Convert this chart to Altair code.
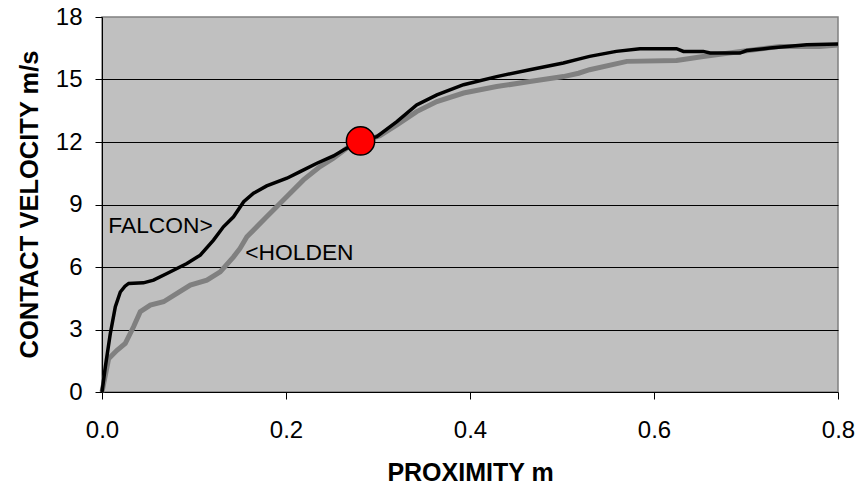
import altair as alt
import pandas as pd

# ---- data ----
falcon_x = [0, 0.0036, 0.009, 0.0145, 0.0199, 0.025, 0.029, 0.045, 0.056, 0.0706, 0.0923, 0.1068, 0.1212,
            0.132, 0.143, 0.154, 0.1647, 0.179, 0.201, 0.2154, 0.2336, 0.2516, 0.2625, 0.281, 0.2987,
            0.3205, 0.342, 0.364, 0.393, 0.429, 0.465, 0.5015, 0.518, 0.530, 0.559, 0.5848, 0.6245,
            0.632, 0.6535, 0.661, 0.6934, 0.7007, 0.726, 0.766, 0.8]
falcon_v = [0, 1.2, 2.8, 4.09, 4.8, 5.08, 5.21, 5.24, 5.37, 5.69, 6.17, 6.57, 7.29,
            7.93, 8.41, 9.13, 9.54, 9.89, 10.26, 10.58, 10.98, 11.33, 11.62, 12.05, 12.26,
            12.98, 13.78, 14.26, 14.75, 15.14, 15.47, 15.79, 15.98, 16.11, 16.35, 16.48, 16.48,
            16.35, 16.35, 16.27, 16.27, 16.39, 16.51, 16.67, 16.7]

holden_x = [0, 0.0072, 0.0163, 0.0253, 0.0343, 0.0416, 0.0525, 0.0669, 0.0815, 0.096, 0.114, 0.1285,
            0.143, 0.150, 0.1575, 0.179, 0.201, 0.219, 0.237, 0.2516, 0.266, 0.281, 0.302, 0.3205,
            0.342, 0.364, 0.393, 0.429, 0.465, 0.5015, 0.518, 0.530, 0.5705, 0.6245, 0.6535, 0.690,
            0.737, 0.780, 0.8]
holden_v = [0, 1.6, 2.0, 2.33, 3.13, 3.85, 4.17, 4.33, 4.73, 5.13, 5.37, 5.77,
            6.49, 6.89, 7.45, 8.41, 9.38, 10.18, 10.82, 11.22, 11.7, 12.0, 12.3, 12.82,
            13.46, 13.94, 14.35, 14.66, 14.9, 15.14, 15.3, 15.47, 15.87, 15.91, 16.1, 16.32,
            16.59, 16.59, 16.65]

marker_x = [0.281]
marker_v = [12.05]

label_text = ["FALCON>", "<HOLDEN"]
label_x = [0.0068, 0.1557]
label_v = [7.63, 6.33]

x_ticks = [0.0, 0.2, 0.4, 0.6, 0.8]
y_ticks = [0, 3, 6, 9, 12, 15, 18]

falcon = pd.DataFrame({"x": falcon_x, "v": falcon_v})
holden = pd.DataFrame({"x": holden_x, "v": holden_v})
marker = pd.DataFrame({"x": marker_x, "v": marker_v})
labels = pd.DataFrame({"x": label_x, "v": label_v, "t": label_text})

FONT = "Arial, Liberation Sans, sans-serif"

xs = alt.Scale(domain=[0, 0.8], nice=False, zero=False)
ys = alt.Scale(domain=[0, 18], nice=False)

x_axis = alt.Axis(
    values=x_ticks, format=".1f", title="PROXIMITY m", grid=False,
    labelFontSize=24, labelFont=FONT, labelColor="black", labelBaseline="alphabetic",
    labelPadding=38, tickSize=7, tickColor="black", domainColor="black",
    titleFont=FONT, titleFontSize=25, titleFontWeight="bold", titleColor="black",
    titleBaseline="alphabetic", titleX=368, titleY=88, titleAlign="center",
    labelFlush=False, labelOverlap=False,
)
y_axis = alt.Axis(
    values=y_ticks, title="CONTACT VELOCITY m/s", grid=True,
    gridColor="#000000", gridWidth=1,
    gridOpacity={"condition": {"test": "datum.value >= 18 || datum.value <= 0", "value": 0}, "value": 1},
    labelFontSize=24, labelFont=FONT, labelColor="black", labelPadding=13,
    tickSize=7, tickColor="black", domainColor="black",
    titleFont=FONT, titleFontSize=25.5, titleFontWeight="bold", titleColor="black",
    titleAngle=270, titleBaseline="alphabetic", titleX=-65, titleY=187, titleAlign="center",
    labelFlush=False, labelOverlap=False,
)

X = alt.X("x:Q", scale=xs, axis=x_axis)
Y = alt.Y("v:Q", scale=ys, axis=y_axis)

holden_line = alt.Chart(holden).mark_line(color="#808080", strokeWidth=5).encode(x=X, y=Y)
falcon_line = alt.Chart(falcon).mark_line(color="#000000", strokeWidth=3.5).encode(x=X, y=Y)
dot = alt.Chart(marker).mark_circle(size=800, color="#FF0000", opacity=1,
                                    stroke="black", strokeWidth=1.5).encode(x=X, y=Y)
text = alt.Chart(labels).mark_text(align="left", baseline="alphabetic", font=FONT,
                                   fontSize=22.8, color="black").encode(x=X, y=Y, text="t:N")

chart = alt.layer(holden_line, falcon_line, dot, text).properties(
    width=736, height=375,
    padding={"left": 102, "top": 17, "right": 20, "bottom": 92},
    autosize=alt.AutoSizeParams(type="none"),
    background="white",
).configure_view(fill="#C0C0C0", stroke="#808080", strokeWidth=1.5)

chart.save("out.html", embed_options={"renderer": "svg", "actions": False})
